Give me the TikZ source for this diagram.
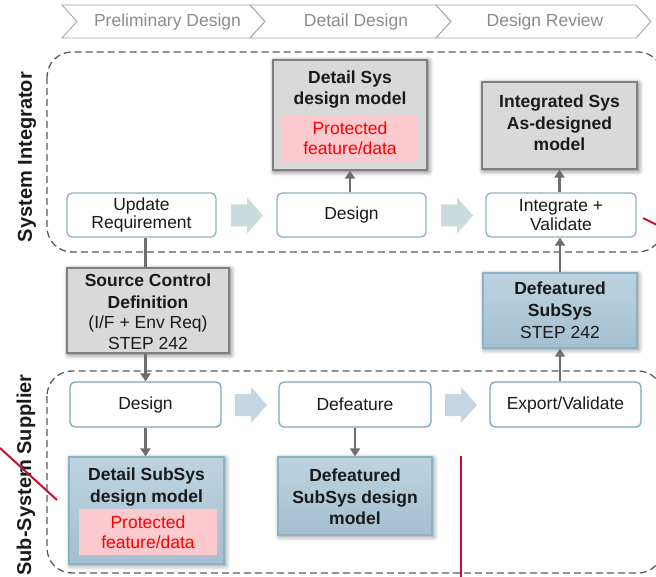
\documentclass[tikz,border=0pt]{standalone}
\usepackage{fontspec}
\setmainfont{Liberation Sans}
\usetikzlibrary{arrows.meta,shadows.blur,calc}
\definecolor{chevline}{HTML}{A6A6A6}
\definecolor{chevtext}{HTML}{8C8C8C}
\definecolor{lanedash}{HTML}{5A5A5A}
\definecolor{procedgeA}{HTML}{8DB3B8}
\definecolor{procedgeB}{HTML}{7EA5BF}
\definecolor{stepA}{HTML}{C9DCDC}
\definecolor{stepB}{HTML}{C4D6E1}
\definecolor{modelgray}{HTML}{D9D9D9}
\definecolor{modeledge}{HTML}{7F7F7F}
\definecolor{bluetop}{HTML}{BED3E0}
\definecolor{bluebot}{HTML}{A4BFD0}
\definecolor{blueedge}{HTML}{8DB1C7}
\definecolor{pinkfill}{HTML}{FBC9CE}
\definecolor{redtext}{HTML}{FF0000}
\definecolor{flowgray}{HTML}{6E6E6E}
\definecolor{markred}{HTML}{C8102E}
\definecolor{inktext}{HTML}{1A1A1A}

\tikzset{
  chevron/.style={draw=chevline, line width=0.9pt, fill=white},
  phase/.style={text=chevtext, font=\fontsize{17.5}{21}\selectfont, inner sep=0pt},
  lane/.style={draw=lanedash, line width=1.3pt, dash pattern=on 7pt off 4pt, rounded corners=25pt},
  lanelabel/.style={rotate=90, font=\bfseries\fontsize{20}{24}\selectfont, text=inktext, inner sep=0pt},
  procbox/.style={draw=#1, fill=white, rounded corners=5pt, line width=1.3pt,
    align=center, inner sep=0pt, text=inktext, font=\fontsize{17.5}{18.5}\selectfont},
  graymodel/.style={draw=modeledge, fill=modelgray, line width=1.3pt, inner sep=0pt,
    blur shadow={shadow xshift=1.5pt, shadow yshift=-1.5pt, shadow blur radius=5pt, shadow opacity=65}},
  bluemodel/.style={draw=blueedge, top color=bluetop, bottom color=bluebot, line width=1.2pt, inner sep=0pt,
    blur shadow={shadow xshift=1.5pt, shadow yshift=-1.5pt, shadow blur radius=5pt, shadow opacity=50}},
  title/.style={align=center, inner sep=0pt, text=inktext, font=\bfseries\fontsize{17.5}{21.5}\selectfont},
  plain/.style={align=center, inner sep=0pt, text=inktext, font=\fontsize{17.5}{21}\selectfont},
  pinkbox/.style={fill=pinkfill, inner sep=0pt, align=center, text=redtext,
    font=\fontsize{17.5}{20}\selectfont},
  flow/.style={-{Triangle[width=10pt,length=8pt]}, line width=2.8pt, draw=flowgray},
  flowline/.style={line width=2.8pt, draw=flowgray},
  steparrow/.style={fill=#1, draw=none},
  redmark/.style={draw=markred, line width=2pt},
}

\begin{document}
\begin{tikzpicture}[x=1pt,y=-1pt]
\useasboundingbox (0,0) rectangle (656,577);
\clip (0,0) rectangle (656,577);

% phase chevrons
\draw[chevron] (62,5) -- (250,5) -- (265,21.5) -- (250,38) -- (62,38) -- (77,21.5) -- cycle;
\draw[chevron] (250,5) -- (436,5) -- (451,21.5) -- (436,38) -- (250,38) -- (265,21.5) -- cycle;
\draw[chevron] (436,5) -- (636,5) -- (651,21.5) -- (636,38) -- (436,38) -- (451,21.5) -- cycle;
\node[phase] (ph1) at (167.5,22) {Preliminary Design};
\node[phase] (ph2) at (356,22) {Detail Design};
\node[phase] (ph3) at (545,22) {Design Review};

% swim lanes
\draw[lane] (47,52) rectangle (663,252);
\draw[lane] (47,371) rectangle (663,573);
\node[lanelabel] (lsi) at (27,157) {System Integrator};
\node[lanelabel] (lss) at (26,475) {Sub-System Supplier};

% system integrator lane
\node[procbox=procedgeA, minimum width=149pt, minimum height=44pt] (ur) at (141.5,215) {Update\\Requirement};
\node[procbox=procedgeA, minimum width=149pt, minimum height=44pt] (dsgA) at (351.5,215) {Design};
\node[procbox=procedgeA, minimum width=150pt, minimum height=44pt] (intv) at (561,215) {Integrate +\\Validate};

\node[graymodel, minimum width=154pt, minimum height=110pt] (dsm) at (350,115) {};
\node[title] (dsmT) at (350,89.5) {Detail Sys\\design model};
\node[pinkbox, minimum width=136pt, minimum height=47pt] (dsmP) at (350,138.5) {Protected\\feature/data};

\node[graymodel, minimum width=155pt, minimum height=87pt] (isd) at (559.5,125.5) {};
\node[title] (isdT) at (559.5,123) {Integrated Sys\\As-designed\\model};

% interface definition between the lanes
\node[graymodel, minimum width=162pt, minimum height=85pt] (scd) at (148,310.5) {};
\node[title] (scdT) at (148,291) {Source Control\\Definition};
\node[plain] (scdS) at (148,333) {(I/F + Env Req)\\STEP 242};

\node[bluemodel, minimum width=154pt, minimum height=75pt] (dfs) at (560,310.5) {};
\node[title] (dfsT) at (560,301) {Defeatured\\SubSys};
\node[plain] (dfsS) at (560,332.5) {STEP 242};

% sub-system supplier lane
\node[procbox=procedgeB, minimum width=151pt, minimum height=45pt] (dsgB) at (145.5,404.5) {Design};
\node[procbox=procedgeB, minimum width=152pt, minimum height=45pt] (def) at (355,404.5) {Defeature};
\node[procbox=procedgeB, minimum width=151pt, minimum height=45pt] (exv) at (565.5,404.5) {Export/Validate};

\node[bluemodel, minimum width=155pt, minimum height=107pt] (dss) at (146.5,510.5) {};
\node[title] (dssT) at (146.5,487) {Detail SubSys\\design model};
\node[pinkbox, minimum width=138pt, minimum height=46pt] (dssP) at (148,532) {Protected\\feature/data};

\node[bluemodel, minimum width=154pt, minimum height=78pt] (dfm) at (355,496) {};
\node[title] (dfmT) at (355,497) {Defeatured\\SubSys design\\model};

% step arrows
\fill[steparrow=stepA] (231,204.5) -- (247,204.5) -- (247,197.5) -- (263,215.5) -- (247,233.5) -- (247,226.5) -- (231,226.5) -- cycle;
\fill[steparrow=stepA] (441,204.5) -- (457,204.5) -- (457,197.5) -- (473,215.5) -- (457,233.5) -- (457,226.5) -- (441,226.5) -- cycle;
\fill[steparrow=stepB] (235,394) -- (251,394) -- (251,387) -- (267,405) -- (251,423) -- (251,416) -- (235,416) -- cycle;
\fill[steparrow=stepB] (445,394) -- (461,394) -- (461,387) -- (477,405) -- (461,423) -- (461,416) -- (445,416) -- cycle;

% connectors
\draw[flow] (dsgA.north -| dsm.south) -- (dsm.south);
\draw[flow] (intv.north -| isd.south) -- (isd.south);
\draw[flowline] (ur.south -| dsgB.north) -- (scd.north -| dsgB.north);
\draw[flow] (scd.south -| dsgB.north) -- (dsgB.north);
\draw[flow] (dsgB.south) -- (dss.north -| dsgB.south);
\draw[flow] (def.south -| dfm.north) -- (dfm.north);
\draw[flow] (exv.north -| dfs.south) -- (dfs.south);
\draw[flow] (dfs.north) -- (intv.south -| dfs.north);

% red strokes
\coordinate (r1a) at (0,448);
\coordinate (r1b) at (57,500);
\coordinate (r2a) at (461,456);
\coordinate (r2b) at (461,577);
\coordinate (r3a) at (643,218);
\coordinate (r3b) at (657,225);
\draw[redmark] (r1a) -- (r1b);
\draw[redmark] (r2a) -- (r2b);
\draw[redmark] (r3a) -- (r3b);
\end{tikzpicture}
\end{document}
